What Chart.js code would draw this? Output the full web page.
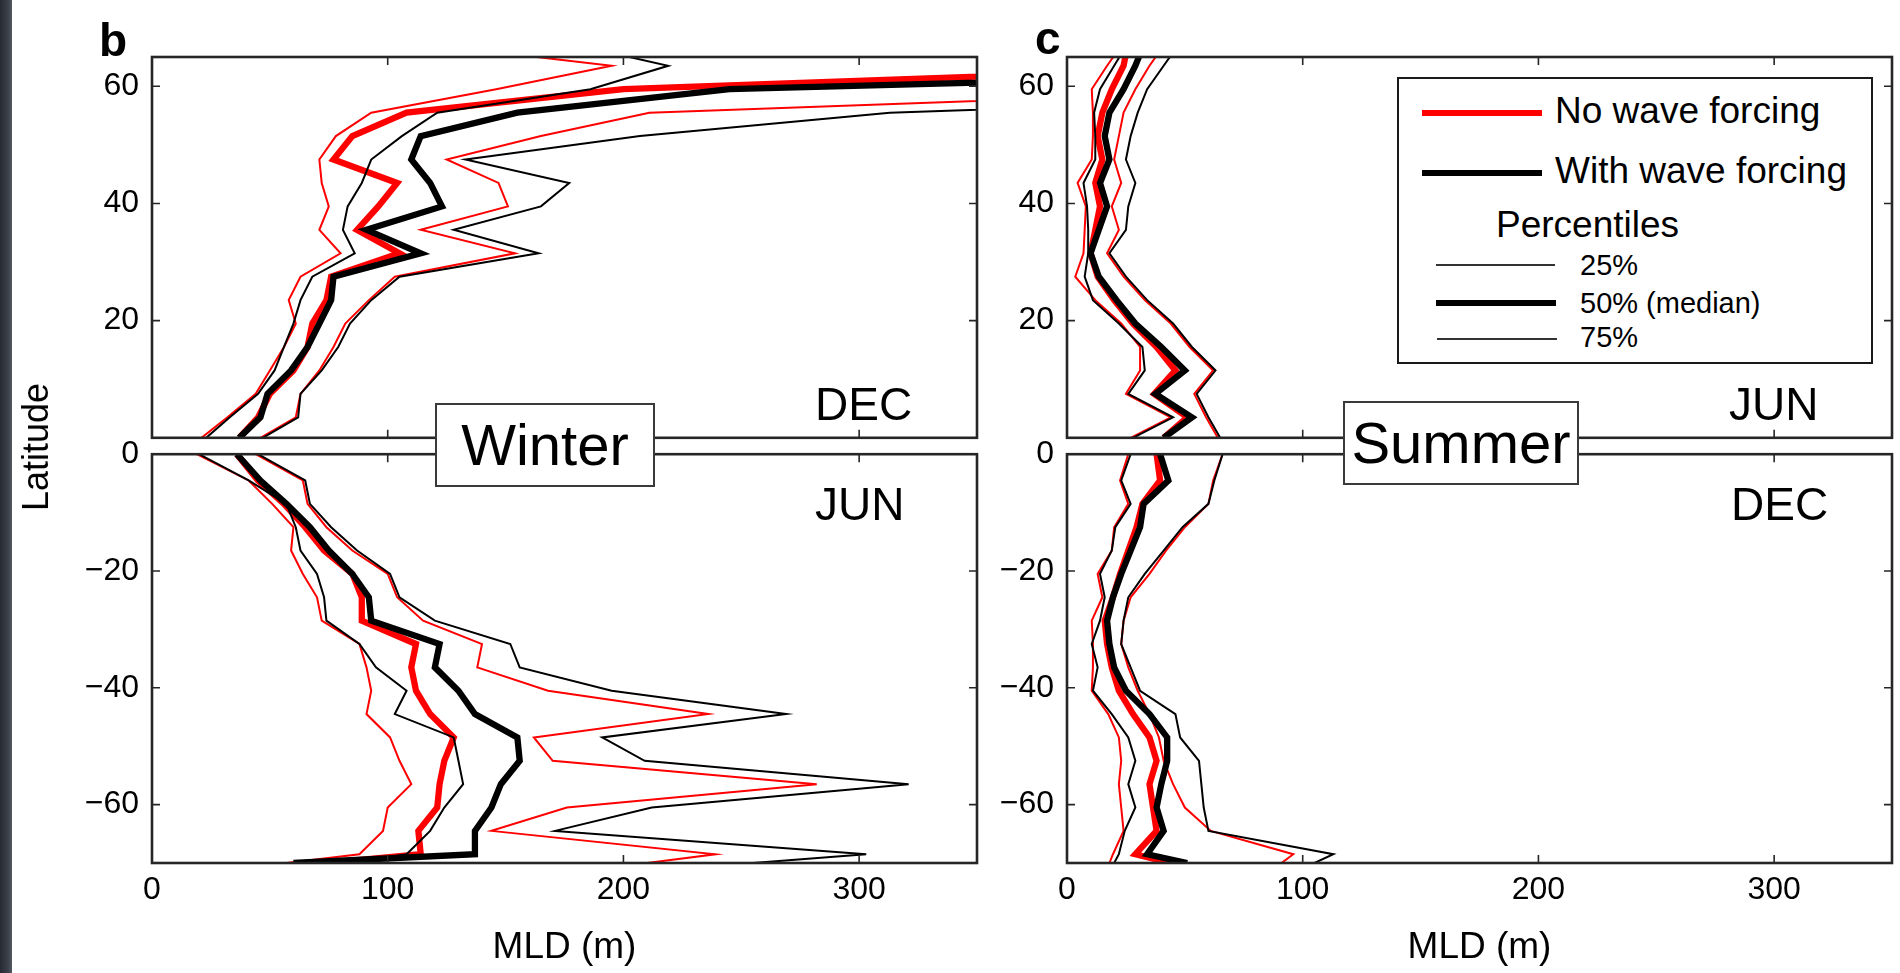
<!DOCTYPE html>
<html>
<head>
<meta charset="utf-8">
<script src="https://cdn.jsdelivr.net/npm/chart.js@4.4.1/dist/chart.umd.min.js"></script>
<style>
  html, body { margin: 0; padding: 0; background: #fff; width: 1900px; height: 973px; overflow: hidden; }
  body { position: relative; font-family: "Liberation Sans", Arial, sans-serif; color: #000; }
  canvas { position: absolute; }
  .t { position: absolute; line-height: 1; white-space: nowrap; }
  .strip { position: absolute; left: 0; top: 0; width: 12px; height: 973px; background: linear-gradient(90deg, #262a32, #3c414b 70%, #555a63); }
  .box { position: absolute; box-sizing: border-box; background: #fff; border: 2px solid #3a3a3a; display: flex; align-items: center; justify-content: center; font-size: 58px; line-height: 1; }
  .legend { position: absolute; left: 1397px; top: 77px; width: 476px; height: 287px; box-sizing: border-box; border: 2.5px solid #1a1a1a; background: #fff; }
  .sw { position: absolute; background: #000; }
</style>
</head>
<body>
<div class="strip"></div>

<canvas id="bBot" width="950" height="551" style="left:40px;top:422px"></canvas>
<canvas id="cBot" width="950" height="551" style="left:955px;top:422px"></canvas>
<canvas id="bTop" width="950" height="450" style="left:40px;top:20px"></canvas>
<canvas id="cTop" width="950" height="450" style="left:955px;top:20px"></canvas>

<div class="t" style="left:99px;top:17px;font-size:46px;font-weight:bold">b</div>
<div class="t" style="left:1035px;top:15px;font-size:46px;font-weight:bold">c</div>
<div class="t" style="left:36px;top:447px;font-size:36px;transform:translate(-50%,-50%) rotate(-90deg)">Latitude</div>

<div class="t" style="left:815px;top:381px;font-size:46px">DEC</div>
<div class="t" style="left:815px;top:481px;font-size:46px">JUN</div>
<div class="t" style="left:1729px;top:381px;font-size:46px">JUN</div>
<div class="t" style="left:1731px;top:481px;font-size:46px">DEC</div>

<div class="box" style="left:435px;top:403px;width:220px;height:84px">Winter</div>
<div class="box" style="left:1343px;top:401px;width:236px;height:84px">Summer</div>

<div class="legend"></div>
<div class="sw" style="left:1422px;top:110px;width:120px;height:6px;background:#ff0000"></div>
<div class="t" style="left:1555px;top:92px;font-size:37px">No wave forcing</div>
<div class="sw" style="left:1422px;top:170px;width:120px;height:6px"></div>
<div class="t" style="left:1555px;top:152px;font-size:37px">With wave forcing</div>
<div class="t" style="left:1496px;top:206px;font-size:37px">Percentiles</div>
<div class="sw" style="left:1436px;top:264px;width:119px;height:2px;background:#333"></div>
<div class="t" style="left:1580px;top:251px;font-size:29px">25%</div>
<div class="sw" style="left:1436px;top:300px;width:120px;height:6px"></div>
<div class="t" style="left:1580px;top:289px;font-size:29px">50% (median)</div>
<div class="sw" style="left:1437px;top:338px;width:120px;height:2px;background:#333"></div>
<div class="t" style="left:1580px;top:323px;font-size:29px">75%</div>

<script>
// latitude grid (deg); rows of every series follow these
const LAT_N = [0, 3.5, 7.5, 11.5, 15.5, 19.5, 23.5, 27.5, 31.5, 35.5, 39.5, 43.5, 47.5, 51.5, 55.5, 59.5, 63.5, 67.5];
const LAT_S = [0, -4.5, -8.5, -12.5, -16.5, -20.5, -24.5, -28.5, -32.5, -36.5, -40.5, -44.5, -48.5, -52.5, -56.5, -60.5, -64.5, -68.5, -70];

const X_TICKS = [0, 100, 200, 300];
const Y_TICKS_N = [20, 40, 60];
const Y_TICKS_S = [0, -20, -40, -60];

// b, top: winter, north (DEC) - MLD in m
const winN_noWave25 = [21, 32, 44, 50, 56, 61, 58, 63, 80, 71, 75, 72, 71, 78, 93, 146, 195, 110];
const winN_noWave50 = [37, 45, 50, 60, 66, 68, 74, 76, 105, 87, 96, 104, 77, 85, 108, 200, 480, 700];
const winN_noWave75 = [46, 61, 63, 71, 77, 82, 92, 103, 154, 114, 151, 147, 125, 165, 211, 490, 800, 900];
const winN_wave25   = [23, 33, 45, 52, 56, 60, 63, 68, 86, 81, 83, 89, 93, 106, 121, 186, 219, 175];
const winN_wave50   = [37, 46, 49, 59, 66, 71, 76, 77, 114, 91, 123, 118, 110, 114, 155, 245, 620, 900];
const winN_wave75   = [47, 62, 63, 72, 79, 84, 93, 105, 164, 128, 165, 177, 133, 207, 313, 620, 900, 1000];

// b, bottom: winter, south (JUN)
const winS_noWave25 = [19, 41, 51, 60, 59, 64, 70, 72, 88, 91, 93, 91, 101, 105, 110, 100, 98, 88, 57];
const winS_noWave50 = [36, 45, 56, 65, 73, 85, 89, 89, 112, 110, 112, 118, 128, 124, 122, 121, 113, 114, 75];
const winS_noWave75 = [44, 64, 66, 74, 85, 100, 104, 115, 140, 138, 168, 236, 162, 170, 282, 176, 144, 239, 210];
const winS_wave25   = [20, 41, 57, 61, 63, 70, 73, 74, 88, 95, 108, 103, 128, 130, 132, 124, 118, 108, 85];
const winS_wave50   = [36, 46, 57, 67, 75, 85, 92, 93, 122, 120, 130, 137, 155, 156, 148, 144, 137, 137, 60];
const winS_wave75   = [45, 65, 67, 76, 87, 101, 105, 120, 152, 156, 195, 269, 191, 209, 321, 212, 171, 303, 255];

// c, top: summer, north (JUN)
const sumN_noWave25 = [27, 44, 25, 31, 31, 23, 12, 3.5, 7, 7.5, 8, 4.5, 10.5, 11, 11, 10.5, 17, 24];
const sumN_noWave50 = [41, 51, 37, 46, 38, 28, 20, 13, 10, 12, 14, 12, 15, 13, 15, 19, 24, 26];
const sumN_noWave75 = [64, 59, 54, 62, 52, 44, 33, 24, 17, 22, 19, 23, 20, 22, 24, 29, 35, 42];
const sumN_wave25   = [28, 45, 26, 33, 32, 22, 11, 7.5, 9, 9, 8.5, 7, 12, 12, 11.5, 14, 20, 26];
const sumN_wave50   = [41, 53, 37.5, 50, 40, 29, 21, 13.5, 10, 13.5, 17, 14, 18, 16, 18, 24, 29, 33];
const sumN_wave75   = [65, 60, 55, 63, 53, 45, 34, 25, 18, 25, 26, 29, 25, 27, 30, 34, 41, 48];

// c, bottom: summer, south (DEC)
const sumS_noWave25 = [26, 22.5, 26, 20, 19, 13, 15, 10.5, 11, 11, 10.5, 17.5, 22, 23, 22, 23, 24, 19.5, 18];
const sumS_noWave50 = [38, 39.5, 32, 29.5, 26, 22.5, 19.5, 16, 17, 19, 22, 28, 35, 38, 35, 36.5, 38, 29, 44];
const sumS_noWave75 = [66, 62, 60, 50, 42, 35, 27, 24, 23, 26, 30, 35, 39, 41, 45, 50, 61, 96, 91];
const sumS_wave25   = [27, 23, 27, 20.5, 19, 14, 16, 14, 10.5, 13, 11, 19, 26, 29, 26, 29, 24.5, 22, 20];
const sumS_wave50   = [39.5, 43, 32.5, 31, 27, 23, 19.5, 17, 18, 20, 25, 35, 42.5, 42.5, 40, 38, 41, 34, 51];
const sumS_wave75   = [66, 62.5, 60, 49, 41, 33, 26, 24, 23, 27, 31, 46, 48, 56, 57, 58, 60, 113, 105];

const FONT = '"Liberation Sans", Arial, sans-serif';
Chart.defaults.font.family = FONT;
Chart.defaults.color = '#000';

const RED = '#ff0000';
const BLACK = '#000000';
const THICK = 6.3;
const THIN = 2;

function line(lat, vals, color, width) {
  return {
    data: lat.map((l, i) => ({ x: vals[i], y: l })),
    borderColor: color,
    borderWidth: width,
    showLine: true,
    pointRadius: 0,
    tension: 0,
    fill: false,
    clip: 0
  };
}

function fmt(v) {
  return v < 0 ? '\u2212' + Math.abs(v) : String(v);
}

// box round the axes plus inward tick marks, like the matlab figure
const framePlugin = {
  id: 'frame',
  afterDatasetsDraw(chart) {
    const { ctx, chartArea: a, scales: { x, y } } = chart;
    ctx.save();
    ctx.strokeStyle = '#262626';
    ctx.lineWidth = 1.6;
    ctx.beginPath();
    X_TICKS.forEach(v => {
      const px = x.getPixelForValue(v);
      ctx.moveTo(px, a.top); ctx.lineTo(px, a.top + 8);
      ctx.moveTo(px, a.bottom); ctx.lineTo(px, a.bottom - 8);
    });
    y.ticks.forEach(t => {
      const py = y.getPixelForValue(t.value);
      ctx.moveTo(a.left, py); ctx.lineTo(a.left + 8, py);
      ctx.moveTo(a.right, py); ctx.lineTo(a.right - 8, py);
    });
    ctx.stroke();
    ctx.lineWidth = 2.6;
    ctx.strokeRect(a.left, a.top, a.right - a.left, a.bottom - a.top);
    ctx.restore();
  }
};

function panel(id, lat, s, yMin, yMax, yTicks, bottom) {
  new Chart(document.getElementById(id), {
    type: 'scatter',
    data: {
      // first dataset is painted last, so black sits over red
      datasets: [
        line(lat, s.wave50, BLACK, THICK),
        line(lat, s.wave25, BLACK, THIN),
        line(lat, s.wave75, BLACK, THIN),
        line(lat, s.noWave50, RED, THICK),
        line(lat, s.noWave25, RED, THIN),
        line(lat, s.noWave75, RED, THIN)
      ]
    },
    options: {
      responsive: false,
      animation: false,
      events: [],
      layout: { padding: { top: bottom ? 30 : 37, right: 13, left: 0, bottom: 0 } },
      plugins: { legend: { display: false }, tooltip: { enabled: false } },
      scales: {
        x: {
          type: 'linear', min: 0, max: 350, position: 'bottom',
          afterBuildTicks: sc => { sc.ticks = X_TICKS.map(v => ({ value: v })); },
          afterFit: sc => { sc.height = bottom ? 110 : 31; },
          grid: { display: false, drawTicks: false },
          border: { display: false },
          ticks: { display: bottom, padding: 8, font: { size: 32 }, maxRotation: 0 },
          title: { display: bottom, text: 'MLD (m)', font: { size: 37 }, padding: { top: 0, bottom: 3 } }
        },
        y: {
          type: 'linear', min: yMin, max: yMax,
          afterBuildTicks: sc => { sc.ticks = yTicks.map(v => ({ value: v })); },
          afterFit: sc => { sc.width = 112; },
          grid: { display: false, drawTicks: false },
          border: { display: false },
          ticks: { padding: 13, font: { size: 32 }, callback: v => fmt(v) }
        }
      }
    },
    plugins: [framePlugin]
  });
}

panel('bTop', LAT_N, {
  noWave25: winN_noWave25, noWave50: winN_noWave50, noWave75: winN_noWave75,
  wave25: winN_wave25, wave50: winN_wave50, wave75: winN_wave75
}, 0, 65, Y_TICKS_N, false);

panel('bBot', LAT_S, {
  noWave25: winS_noWave25, noWave50: winS_noWave50, noWave75: winS_noWave75,
  wave25: winS_wave25, wave50: winS_wave50, wave75: winS_wave75
}, -70, 0, Y_TICKS_S, true);

panel('cTop', LAT_N, {
  noWave25: sumN_noWave25, noWave50: sumN_noWave50, noWave75: sumN_noWave75,
  wave25: sumN_wave25, wave50: sumN_wave50, wave75: sumN_wave75
}, 0, 65, Y_TICKS_N, false);

panel('cBot', LAT_S, {
  noWave25: sumS_noWave25, noWave50: sumS_noWave50, noWave75: sumS_noWave75,
  wave25: sumS_wave25, wave50: sumS_wave50, wave75: sumS_wave75
}, -70, 0, Y_TICKS_S, true);
</script>
</body>
</html>
